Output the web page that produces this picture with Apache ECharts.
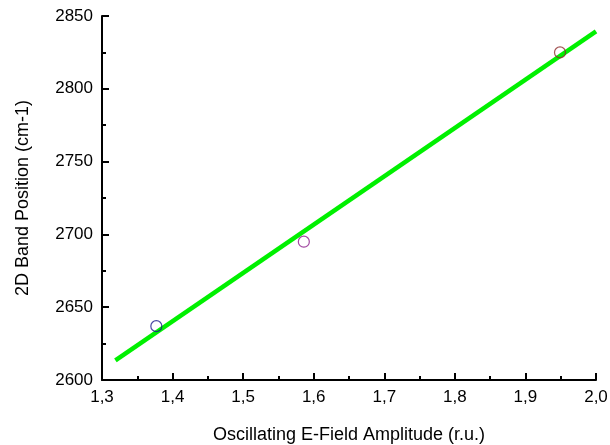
<!DOCTYPE html>
<html><head><meta charset="utf-8">
<script src="https://cdn.jsdelivr.net/npm/echarts@6/dist/echarts.min.js"></script>
<style>html,body{margin:0;padding:0;background:#fff}#c{width:610px;height:445px}</style>
</head><body><div id="c"></div>
<script>
const pointX = [1.377, 1.586, 1.949];
const pointY = [2637, 2695, 2825];
const pointColors = ['#1a1a8c', '#8a1a8a', '#8c2a2a'];
const fitX = [1.319, 2.0];
const fitY = [2613.5, 2839.5];
const xTicks = [1.3, 1.4, 1.5, 1.6, 1.7, 1.8, 1.9, 2.0];
const yTicks = [2600, 2650, 2700, 2750, 2800, 2850];

const chart = echarts.init(document.getElementById('c'));
const font = 'Liberation Sans, Arial, sans-serif';
chart.setOption({
  animation: false,
  grid: {left: 102, right: 14, top: 16, bottom: 65, containLabel: false, outerBoundsMode: 'none'},
  xAxis: {
    type: 'value', min: xTicks[0], max: xTicks[xTicks.length-1], interval: 0.1,
    name: 'Oscillating E-Field Amplitude (r.u.)', nameLocation: 'middle', nameGap: 46,
    nameTextStyle: {fontFamily: font, fontSize: 18, color: '#000'},
    axisLine: {onZero: false, lineStyle: {color: '#000', width: 2}},
    axisTick: {inside: true, length: 7, lineStyle: {color: '#000', width: 2}},
    minorTick: {show: true, splitNumber: 2, length: 4, lineStyle: {color: '#000', width: 2}},
    splitLine: {show: false},
    axisLabel: {fontFamily: font, fontSize: 17, color: '#000', margin: 9,
      formatter: v => v.toFixed(1).replace('.', ',')}
  },
  yAxis: {
    type: 'value', min: yTicks[0], max: yTicks[yTicks.length-1], interval: 50,
    name: '2D Band Position (cm-1)', nameLocation: 'middle', nameGap: 70, nameRotate: 90,
    nameTextStyle: {fontFamily: font, fontSize: 18, color: '#000'},
    axisLine: {onZero: false, lineStyle: {color: '#000', width: 2}},
    axisTick: {inside: true, length: 7, lineStyle: {color: '#000', width: 2}},
    minorTick: {show: true, splitNumber: 2, length: 4, lineStyle: {color: '#000', width: 2}},
    splitLine: {show: false},
    axisLabel: {fontFamily: font, fontSize: 17, color: '#000', margin: 9,
      formatter: v => String(v)}
  },
  series: [
    {
      type: 'line', data: fitX.map((x, i) => [x, fitY[i]]), symbol: 'none',
      lineStyle: {color: '#00f000', width: 4.5}, z: 2
    },
    {
      type: 'scatter', symbol: 'circle', symbolSize: 11, z: 3,
      data: pointX.map((x, i) => ({value: [x, pointY[i]],
        itemStyle: {color: 'rgba(0,0,0,0)', borderColor: pointColors[i], borderWidth: 1.2}}))
    }
  ]
});
</script></body></html>
